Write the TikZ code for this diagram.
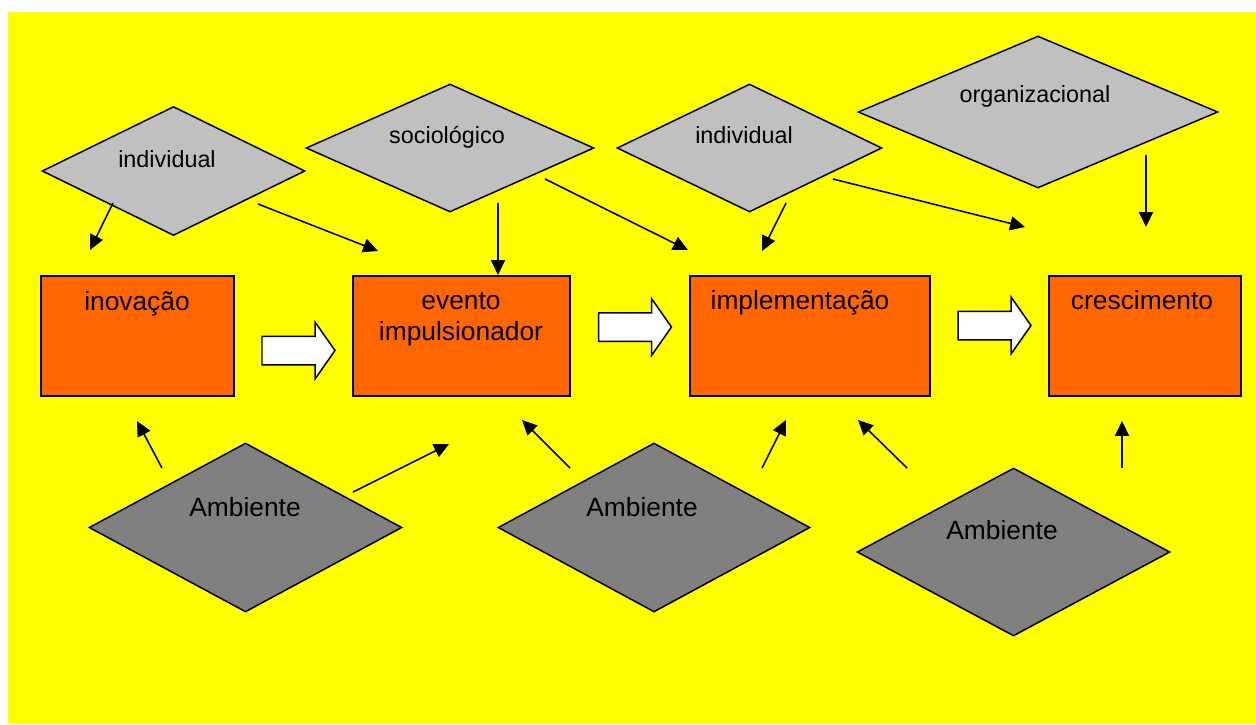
\documentclass[tikz,border=0pt]{standalone}
\usepackage{fontspec}
\setmainfont{Liberation Sans}
\usetikzlibrary{shapes.geometric, shapes.arrows, arrows.meta}

\definecolor{bgyellow}{HTML}{FFFF00}
\definecolor{boxorange}{HTML}{FF6600}
\definecolor{lightgrey}{HTML}{C0C0C0}
\definecolor{darkgrey}{HTML}{808080}

\tikzset{
  stagebox/.style={draw=black, line width=0.85pt, fill=boxorange, inner sep=0pt},
  factor/.style={diamond, draw=black, line width=0.85pt, fill=lightgrey, inner sep=0pt},
  ambient/.style={diamond, draw=black, line width=0.85pt, fill=darkgrey, inner sep=0pt},
  stagetext/.style={anchor=base, inner sep=0pt, align=center, font=\fontsize{15}{17.6}\selectfont},
  factortext/.style={anchor=base, inner sep=0pt, font=\fontsize{13.3}{16}\selectfont},
  flow/.style={single arrow, draw=black, line width=0.85pt, fill=white, inner sep=0.27cm,
    minimum height=1.46cm, single arrow head extend=0.28cm, single arrow tip angle=110,
    single arrow head indent=0pt},
  influence/.style={line width=0.9pt, -{Triangle[length=8.5pt,width=8pt]}},
}

\begin{document}
\begin{tikzpicture}[x=0.02cm, y=-0.02cm]
\useasboundingbox (0,0) rectangle (1256,724);
\fill[bgyellow] (8,12) rectangle (1256,724);

% factors above
\node[factor, minimum width=5.26cm, minimum height=2.58cm] (ind1) at (173.5,171) {};
\node[factor, minimum width=5.76cm, minimum height=2.56cm] (soc) at (450,148) {};
\node[factor, minimum width=5.30cm, minimum height=2.56cm] (ind2) at (749.5,148) {};
\node[factor, minimum width=7.2cm, minimum height=3.04cm] (org) at (1038,112) {};

\node[factortext] (ind1t) at (167,167) {individual};
\node[factortext] (soct) at (447,143) {sociológico};
\node[factortext] (ind2t) at (744,143) {individual};
\node[factortext] (orgt) at (1035,102) {organizacional};

% stages
\node[stagebox, minimum width=3.86cm, minimum height=2.4cm] (inov) at (137.5,336) {};
\node[stagebox, minimum width=4.34cm, minimum height=2.4cm] (event) at (461.5,336) {};
\node[stagebox, minimum width=4.8cm, minimum height=2.4cm] (impl) at (810,336) {};
\node[stagebox, minimum width=3.84cm, minimum height=2.4cm] (cresc) at (1145,336) {};

\node[stagetext] (inovt) at (137,310) {inovação};
\node[stagetext] (eventt) at (461,340) {evento\\impulsionador};
\node[stagetext] (implt) at (800,309) {implementação};
\node[stagetext] (cresct) at (1142,309) {crescimento};

\node[flow] (flow1) at (293.5,350.5) {};
\node[flow] (flow2) at (630,327) {};
\node[flow] (flow3) at (989.5,325.5) {};

% environment
\node[ambient, minimum width=6.26cm, minimum height=3.38cm] (amb1) at (245.5,527.5) {};
\node[ambient, minimum width=6.24cm, minimum height=3.38cm] (amb2) at (654,527.5) {};
\node[ambient, minimum width=6.26cm, minimum height=3.36cm] (amb3) at (1013.5,552) {};

\node[stagetext] (amb1t) at (245,516) {Ambiente};
\node[stagetext] (amb2t) at (642,516) {Ambiente};
\node[stagetext] (amb3t) at (1002,539) {Ambiente};

% arrow ends
\coordinate (ind1a) at (113,203);  \coordinate (inovn) at (90,250);
\coordinate (ind1b) at (258,204);  \coordinate (eventnw) at (378,251);
\coordinate (socs) at (498,203);   \coordinate (eventn) at (498,275);
\coordinate (soce) at (545,179);   \coordinate (implnw) at (688,250);
\coordinate (ind2a) at (786,203);  \coordinate (impln) at (762,251);
\coordinate (ind2b) at (833,179);  \coordinate (crescnw) at (1025,227);
\coordinate (orgs) at (1146,155);  \coordinate (crescn) at (1146,227);
\coordinate (amb1a) at (162,468);  \coordinate (inovs) at (137,421);
\coordinate (amb1b) at (353,492);  \coordinate (events) at (449,444);
\coordinate (amb2a) at (570,468);  \coordinate (eventse) at (522,420);
\coordinate (amb2b) at (762,468);  \coordinate (impls) at (786,420);
\coordinate (amb3a) at (907,468);  \coordinate (implse) at (858,420);
\coordinate (amb3b) at (1122,468); \coordinate (crescs) at (1122,421);

\draw
    (ind1a) edge[influence] (inovn)
    (ind1b) edge[influence] (eventnw)
    (socs) edge[influence] (eventn)
    (soce) edge[influence] (implnw)
    (ind2a) edge[influence] (impln)
    (ind2b) edge[influence] (crescnw)
    (orgs) edge[influence] (crescn)
    (amb1a) edge[influence] (inovs)
    (amb1b) edge[influence] (events)
    (amb2a) edge[influence] (eventse)
    (amb2b) edge[influence] (impls)
    (amb3a) edge[influence] (implse)
    (amb3b) edge[influence] (crescs)
    ;
\end{tikzpicture}
\end{document}
